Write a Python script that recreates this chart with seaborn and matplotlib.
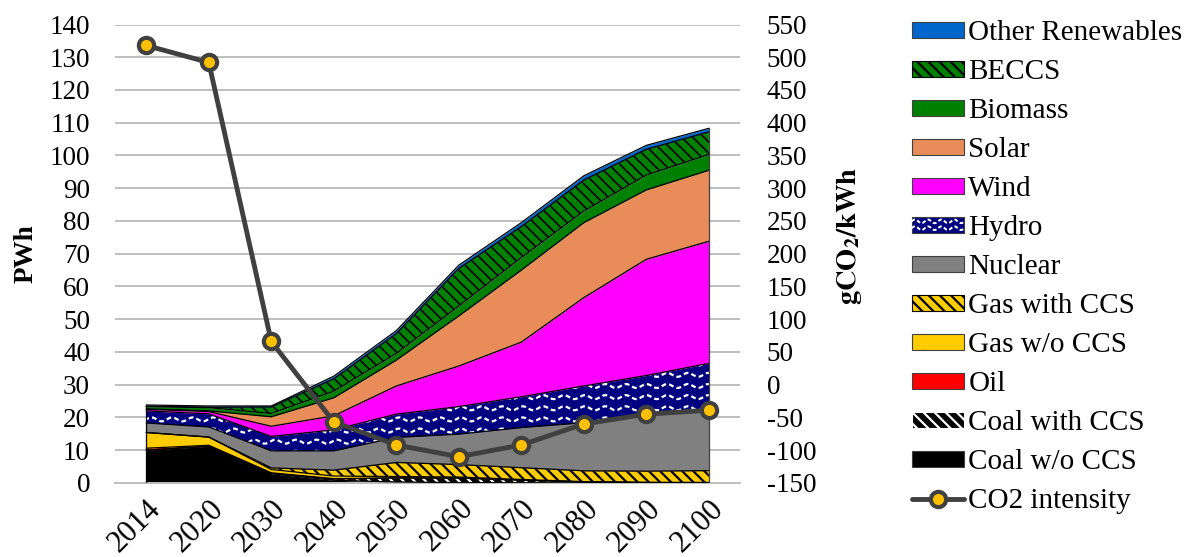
import numpy as np
import pandas as pd
import matplotlib
matplotlib.use("Agg")
import matplotlib.pyplot as plt
from matplotlib.patches import Patch, Rectangle
from matplotlib.lines import Line2D
from matplotlib.legend_handler import HandlerBase
import seaborn as sns

# ---- data (PWh per source, gCO2/kWh intensity) ----
years = ["2014", "2020", "2030", "2040", "2050", "2060", "2070", "2080", "2090", "2100"]
coal_wo_ccs = [10.0, 11.2, 2.8, 0.8, 0.3, 0.1, 0.05, 0.0, 0.0, 0.0]
oil = [0.6, 0.3, 0.2, 0.1, 0.05, 0.0, 0.0, 0.0, 0.0, 0.0]
coal_ccs = [0.0, 0.0, 0.1, 0.4, 1.2, 1.4, 0.8, 0.3, 0.1, 0.05]
gas_wo_ccs = [4.8, 2.5, 1.0, 0.8, 0.4, 0.3, 0.2, 0.1, 0.1, 0.1]
gas_ccs = [0.0, 0.0, 0.5, 1.8, 4.3, 3.8, 3.6, 3.3, 3.4, 3.6]
nuclear = [2.9, 3.1, 5.2, 5.9, 7.65, 9.3, 12.25, 14.7, 17.4, 18.25]
hydro = [3.7, 4.0, 4.4, 6.4, 7.1, 8.4, 9.4, 11.2, 11.8, 14.5]
wind = [0.5, 0.7, 3.1, 4.3, 8.6, 12.4, 16.7, 27.0, 35.5, 37.3]
solar = [0.1, 0.2, 2.9, 5.5, 7.9, 15.3, 22.0, 22.9, 21.2, 21.7]
biomass = [0.7, 1.0, 1.0, 2.0, 2.0, 3.0, 3.8, 3.5, 4.5, 4.8]
beccs = [0.1, 0.1, 2.0, 3.8, 6.1, 11.5, 9.5, 9.5, 7.9, 6.9]
other_renewables = [0.4, 0.4, 0.3, 0.8, 0.9, 1.0, 1.2, 1.3, 1.2, 1.1]
co2_intensity = [518, 492, 66, -57, -92, -110, -92, -60, -45, -39]

# stacking order, bottom to top: (label, values, face, hatch, hatch colour)
layers = [
    ("Coal w/o CCS", coal_wo_ccs, "#000000", None, None),
    ("Coal with CCS", coal_ccs, "#000000", "\\\\\\", "#FFFFFF"),
    ("Oil", oil, "#FF0000", None, None),
    ("Gas w/o CCS", gas_wo_ccs, "#FFCC00", None, None),
    ("Gas with CCS", gas_ccs, "#FFCC00", "\\\\\\", "#000000"),
    ("Nuclear", nuclear, "#808080", None, None),
    ("Hydro", hydro, "#000080", "wave", "#FFFFFF"),
    ("Wind", wind, "#FF00FF", None, None),
    ("Solar", solar, "#E88D5A", None, None),
    ("Biomass", biomass, "#008000", None, None),
    ("BECCS", beccs, "#008000", "\\\\\\", "#000000"),
    ("Other Renewables", other_renewables, "#0066CC", None, None),
]
legend_order = ["Other Renewables", "BECCS", "Biomass", "Solar", "Wind", "Hydro",
                "Nuclear", "Gas with CCS", "Gas w/o CCS", "Oil", "Coal with CCS",
                "Coal w/o CCS"]

sns.set_theme(style="white")
plt.rcParams["font.family"] = ["Liberation Serif", "DejaVu Serif"]
plt.rcParams["mathtext.fontset"] = "stix"
plt.rcParams["hatch.linewidth"] = 1.6
plt.rcParams["axes.unicode_minus"] = False
for key in ["text.color", "axes.labelcolor", "xtick.color", "ytick.color"]:
    plt.rcParams[key] = "black"

FS = 19.5
fig = plt.figure(figsize=(11.93, 5.57), dpi=100)
ax = fig.add_axes([0.0964, 0.133, 0.524, 0.823])

x = np.arange(len(years))
base = np.zeros(len(years))
styles = {}
for label, vals, face, hatch, hcol in layers:
    top = base + np.asarray(vals, dtype=float)
    if hatch == "wave":
        poly = ax.fill_between(x, base, top, facecolor=face, linewidth=0, zorder=2)
        # white dashed wave texture, clipped to the band
        xs = np.linspace(-0.5, len(years) - 0.5, 3000)
        for yrow in np.arange(-1.0, top.max() + 3, 3.4):
            ln, = ax.plot(xs, yrow + 0.6 * np.sin(2 * np.pi * xs / 0.33),
                          color=hcol, lw=1.6, dashes=(2.2, 1.4), zorder=2.5)
            ln.set_clip_path(poly.get_paths()[0], ax.transData)
    else:
        poly = ax.fill_between(x, base, top, facecolor=face,
                               edgecolor=hcol if hcol else face,
                               hatch=hatch, linewidth=0, zorder=2)
        if label == "BECCS" and hasattr(poly, "set_hatch_linewidth"):
            poly.set_hatch_linewidth(1.2)
    ax.plot(x, top, color="black", lw=0.9, zorder=3)
    styles[label] = (face, hatch, hcol)
    base = top
ax.plot([x[0], x[0]], [0, base[0]], color="black", lw=0.9, zorder=3)
ax.plot([x[-1], x[-1]], [0, base[-1]], color="#404040", lw=0.9, zorder=3)

ax.set_xlim(-0.5, len(years) - 0.5)
ax.set_ylim(0, 140)
ax.set_yticks(np.arange(0, 141, 10))
ax.yaxis.grid(True, color="#BFBFBF", lw=1.4, zorder=0)
ax.xaxis.grid(False)
ax.set_axisbelow(True)
for s in ["top", "right", "left"]:
    ax.spines[s].set_visible(False)
ax.spines["bottom"].set_color("#BFBFBF")
ax.spines["bottom"].set_linewidth(1.4)
ax.set_xticks(x)
ax.set_xticklabels(years, rotation=45, ha="right", va="top", rotation_mode="anchor")
ax.tick_params(axis="x", length=0, pad=8, labelsize=22)
ax.tick_params(axis="y", length=0, pad=18, labelsize=FS)
ax.set_ylabel("PWh", fontsize=FS, fontweight="bold", labelpad=8)

ax2 = ax.twinx()
co2_df = pd.DataFrame({"x": x, "co2": co2_intensity})
sns.lineplot(data=co2_df, x="x", y="co2", ax=ax2, color="#404040", lw=3.5,
             marker="o", markersize=11, markerfacecolor="#FFC000",
             markeredgecolor="#404040", markeredgewidth=3, zorder=5)
ax2.set_ylim(-150, 550)
ax2.set_yticks(np.arange(-150, 551, 50))
ax2.set_xlim(-0.5, len(years) - 0.5)
ax2.grid(False)
for s in ["top", "right", "left", "bottom"]:
    ax2.spines[s].set_visible(False)
ax2.tick_params(axis="y", length=0, pad=19, labelsize=FS)
ax2.set_xlabel("")
ax2.set_ylabel(r"$\mathbf{gCO_2/kWh}$", fontsize=FS + 1)
ax2.yaxis.set_label_coords(1.152, 0.54)


class WaveHandler(HandlerBase):
    """Legend key: navy box with white dashed waves."""

    def create_artists(self, legend, orig_handle, xdescent, ydescent, width,
                       height, fontsize, trans):
        rect = Rectangle((-xdescent, -ydescent), width, height,
                         facecolor=orig_handle.get_facecolor(), edgecolor="#404040",
                         lw=0.8, transform=trans)
        arts = [rect]
        xs = np.linspace(-xdescent, -xdescent + width, 200)
        for frac in (0.3, 0.72):
            ys = -ydescent + frac * height + 1.3 * np.sin(2 * np.pi * xs / 9.5)
            arts.append(Line2D(xs, ys, color="white", lw=1.4, dashes=(2.0, 1.2),
                               transform=trans))
        return arts


handles = []
handler_map = {}
for label in legend_order:
    face, hatch, hcol = styles[label]
    if hatch == "wave":
        h = Patch(facecolor=face, label=label)
        handler_map[h] = WaveHandler()
    else:
        h = Patch(facecolor=face, edgecolor=hcol if hcol else "#404040",
                  hatch=hatch, linewidth=0.8, label=label)
    handles.append(h)
handles.append(Line2D([0], [0], color="#404040", lw=3.5, marker="o", markersize=11,
                      markerfacecolor="#FFC000", markeredgecolor="#404040",
                      markeredgewidth=3, label="CO2 intensity"))
fig.legend(handles=handles, handler_map=handler_map, loc="upper left",
           bbox_to_anchor=(0.747, 1.0), frameon=False, fontsize=21,
           handlelength=1.78, handleheight=0.48, handletextpad=0.17,
           labelspacing=0.445, borderaxespad=0.3)

fig.savefig("out.png", dpi=100)
